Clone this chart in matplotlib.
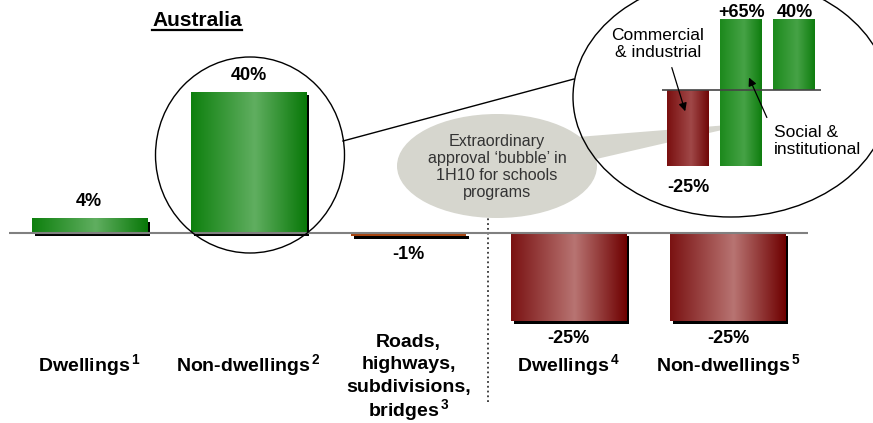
import numpy as np
import matplotlib
matplotlib.use("Agg")
import matplotlib.pyplot as plt
from matplotlib.colors import LinearSegmentedColormap
from matplotlib.patches import Ellipse, Polygon
from matplotlib.transforms import ScaledTranslation

plt.rcParams['font.family'] = ['Liberation Sans', 'DejaVu Sans']
plt.rcParams['mathtext.fontset'] = 'custom'
plt.rcParams['mathtext.rm'] = 'Liberation Sans'
plt.rcParams['mathtext.bf'] = 'Liberation Sans:bold'

# Veränderung der Baugenehmigungen in %
kategorien = ['Dwellings', 'Non-dwellings', 'Roads,\nhighways,\nsubdivisions,\nbridges',
              'Dwellings', 'Non-dwellings']
fussnoten = ['1', '2', '3', '4', '5']
werte = [4, 40, -1, -25, -25]
wert_labels = ['4%', '40%', '-1%', '-25%', '-25%']

# Aufteilung der Non-dwellings (Wasserfall)
segmente = ['Commercial\n& industrial', 'Social &\ninstitutional', 'Total']
segment_werte = [-25, 65, 40]
segment_start = [0, -25, 0]
segment_labels = ['-25%', '+65%', '40%']

bubble_text = "Extraordinary\napproval \u2018bubble\u2019 in\n1H10 for schools\nprograms"

gruen = ['#0e800e', '#60ae60', '#087808']
rot = ['#7a1212', '#b87472', '#6e0000']
gruen_klein = ['#1d8a1d', '#46a246', '#0a7a0a']
rot_klein = ['#7a1010', '#a04848', '#6c0202']

fig = plt.figure(figsize=(8.73, 4.23), dpi=100)


def verlauf_balken(ax, x, h, breite, farben, bottom=0, schatten=True):
    # Balken mit horizontalem Farbverlauf (dunkel - hell - dunkel)
    cmap = LinearSegmentedColormap.from_list('v', [(0, farben[0]), (0.55, farben[1]), (1, farben[2])])
    if schatten:
        off = ax.transData + ScaledTranslation(3 / 100, -3 / 100, fig.dpi_scale_trans)
        ax.bar(x, h, breite, bottom=bottom, color='black', transform=off, zorder=1)
    grad = np.linspace(0, 1, 256).reshape(1, -1)
    y0, y1 = sorted([bottom, bottom + h])
    ax.imshow(grad, cmap=cmap, aspect='auto', extent=(x - breite / 2, x + breite / 2, y0, y1),
              zorder=2, interpolation='bilinear')


# Hauptdiagramm
ax = fig.add_axes([0.01054, 0, 0.9148, 1])
breite = 0.72
for i, w in enumerate(werte):
    if i == 2:
        off = ax.transData + ScaledTranslation(3 / 100, -3 / 100, fig.dpi_scale_trans)
        ax.bar(i, w, breite, color='black', transform=off, zorder=1)
        ax.bar(i, w, breite, color='#a8440f', zorder=2)
    else:
        verlauf_balken(ax, i, w, breite, gruen if w > 0 else rot)
    dy = 17 if w > 0 else -18
    ax.annotate(wert_labels[i], (i, w), xytext=(0, dy), textcoords='offset pixels',
                ha='center', va='center', fontsize=13, fontweight='bold')

    # Kategorie mit hochgestellter Fußnote an der letzten Zeile
    zeilen = kategorien[i].split('\n')
    letzte = zeilen[-1] + r'$^{\,\mathbf{' + fussnoten[i] + '}}$'
    if len(zeilen) > 1:
        ax.text(i, -37.5, '\n'.join(zeilen[:-1]), ha='center', va='center',
                fontsize=14, fontweight='bold', linespacing=1.39)
        ax.text(i, -50.5, letzte, ha='center', va='center', fontsize=14, fontweight='bold')
    else:
        ax.text(i, -37.6, letzte, ha='center', va='center', fontsize=14, fontweight='bold')

ax.axhline(0, color='#808080', lw=1.5, zorder=3)
ax.vlines(2.5, -48, 4.3, colors='#333333', linestyles=':', lw=1.3)
ax.set_xlim(-0.5, 4.5)
ax.set_ylim(-54.0, 66.2)
ax.axis('off')

# Kreise, Verbindungslinie und Sprechblase (Pixelkoordinaten)
ax_o = fig.add_axes([0, 0, 1, 1], zorder=2)
ax_o.set_xlim(0, 873)
ax_o.set_ylim(423, 0)
ax_o.axis('off')
ax_o.patch.set_alpha(0)

ax_o.add_patch(Polygon([(540, 140), (722, 125.5), (722, 130), (540, 172)],
                       closed=True, color='#d6d6ce', lw=0))
ax_o.add_patch(Ellipse((497, 166), 200, 104, color='#d6d6ce', lw=0))
ax_o.text(497, 167, bubble_text, ha='center', va='center', fontsize=11.6,
          color='#333333', linespacing=1.17)
ax_o.add_patch(Ellipse((250, 155), 189, 196, fill=False, ec='black', lw=1))
ax_o.add_patch(Ellipse((731, 97), 316, 240, fill=False, ec='black', lw=1))
ax_o.plot([343, 574], [141, 79], color='black', lw=1)

titel = ax_o.text(197, 20, 'Australia', ha='center', va='center', fontsize=15, fontweight='bold')

# Aufteilung im Kreis
ax_i = fig.add_axes([662 / 873, 223 / 423, 159 / 873, 200 / 423], zorder=3)
ax_i.patch.set_alpha(0)
ax_i.set_yscale('function', functions=(lambda y: np.where(y < 0, y * 1.69, y),
                                       lambda y: np.where(y < 0, y / 1.69, y)))
for i, (w, b) in enumerate(zip(segment_werte, segment_start)):
    verlauf_balken(ax_i, i, w, 0.81, rot_klein if w < 0 else gruen_klein, bottom=b, schatten=False)
    dy = 5 if w > 0 else -22
    ax_i.annotate(segment_labels[i], (i, b + w), xytext=(0, dy), textcoords='offset pixels',
                  ha='center', va='center', fontsize=13, fontweight='bold')
ax_i.axhline(0, color='#444444', lw=1.2)
ax_i.set_xlim(-0.5, 2.5)
ax_i.set_ylim(-36.2, 50)
ax_i.axis('off')

ax_i.text(-0.575, 25.5, segmente[0], ha='center', va='center', fontsize=12.5, linespacing=1.2)
ax_i.annotate('', xy=(-0.047, -7.9), xytext=(-0.33, 13.9),
              arrowprops=dict(arrowstyle='-|>', color='black', lw=0.9, mutation_scale=12))
ax_i.text(1.61, -16.8, segmente[1], ha='left', va='center', fontsize=12.5, linespacing=1.2)
ax_i.annotate('', xy=(1.12, 8.3), xytext=(1.5, -9.9),
              arrowprops=dict(arrowstyle='-|>', color='black', lw=0.9, mutation_scale=12))

# Titel unterstreichen
fig.canvas.draw()
bb = titel.get_window_extent()
ax_o.plot([bb.x0, bb.x1], [423 - bb.y0 + 1, 423 - bb.y0 + 1], color='black', lw=1.6)

fig.savefig('out.png', dpi=100)
